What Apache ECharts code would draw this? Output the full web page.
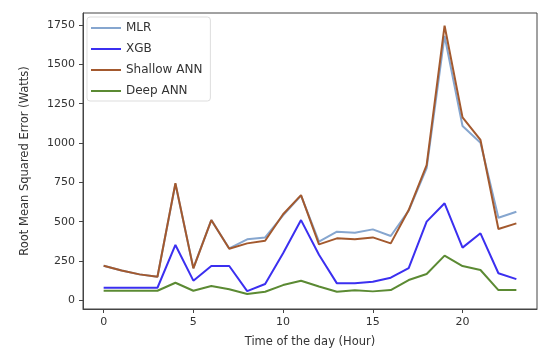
<!DOCTYPE html>
<html>
<head>
<meta charset="utf-8">
<script src="https://cdn.jsdelivr.net/npm/echarts@6/dist/echarts.min.js"></script>
<style>html,body{margin:0;padding:0;background:#fff}#c{width:550px;height:356px}</style>
</head>
<body>
<div id="c"></div>
<script>
const hours = [0,1,2,3,4,5,6,7,8,9,10,11,12,13,14,15,16,17,18,19,20,21,22,23];
const mlr = [220,190,165,150,740,205,510,330,388,400,540,665,373,436,430,451,409,570,840,1680,1108,1002,525,563];
const xgb = [80,80,80,80,352,125,218,218,59,104,299,510,290,108,108,118,144,205,500,617,335,426,172,135];
const shallow = [220,190,165,150,744,203,510,328,362,379,547,669,356,394,388,400,362,574,860,1745,1163,1019,453,489];
const deep = [61,61,61,61,112,61,91,70,40,55,97,125,88,55,64,57,65,129,167,284,218,193,65,65];
const xTicks = [0,5,10,15,20];
const yTicks = [0,250,500,750,1000,1250,1500,1750];
const names = ['MLR','XGB','Shallow ANN','Deep ANN'];
const colors = ['#86a6cf','#3b2ff0','#a3592e','#5b8a33'];
const seriesData = [mlr, xgb, shallow, deep];

const chart = echarts.init(document.getElementById('c'), null, {renderer:'canvas'});
const font = 'DejaVu Sans';
chart.setOption({
  animation:false,
  backgroundColor:'#fff',
  grid:{left:83,right:13,top:13,bottom:47,show:true,borderColor:'#444',borderWidth:1,backgroundColor:'transparent'},
  legend:{
    left:87, top:17, orient:'vertical', itemWidth:30, itemHeight:2, itemGap:9,
    backgroundColor:'rgba(255,255,255,0.85)', borderColor:'#ddd', borderWidth:1, borderRadius:3,
    padding:[5,8,4,4],
    textStyle:{fontFamily:font,fontSize:12,color:'#333'},
    icon:'rect',
    data:names
  },
  xAxis:{
    type:'value', min:-1.15, max:24.15,
    name:'Time of the day (Hour)', nameLocation:'middle', nameGap:27,
    nameTextStyle:{fontFamily:font,fontSize:11.5,color:'#333'},
    axisLine:{show:true,onZero:false,lineStyle:{color:'#444'}},
    axisTick:{show:true,length:4,customValues:xTicks,lineStyle:{color:'#444'}},
    axisLabel:{customValues:xTicks,fontFamily:font,fontSize:11,color:'#333',margin:8},
    splitLine:{show:false}
  },
  yAxis:{
    type:'value', min:-55, max:1826,
    name:'Root Mean Squared Error (Watts)', nameLocation:'middle', nameGap:52, nameRotate:90,
    nameTextStyle:{fontFamily:font,fontSize:11.5,color:'#333'},
    axisLine:{show:true,onZero:false,lineStyle:{color:'#444'}},
    axisTick:{show:true,length:4,customValues:yTicks,lineStyle:{color:'#444'}},
    axisLabel:{customValues:yTicks,formatter:v=>String(v),fontFamily:font,fontSize:11,color:'#333',margin:8},
    splitLine:{show:false}
  },
  series: names.map((n,i)=>({
    name:n, type:'line', showSymbol:false, symbol:'none',
    data: hours.map((h,j)=>[h, seriesData[i][j]]),
    lineStyle:{width:2,color:colors[i]}, itemStyle:{color:colors[i]},
    z: i===0?1:(i+2)
  }))
});
</script>
</body>
</html>
